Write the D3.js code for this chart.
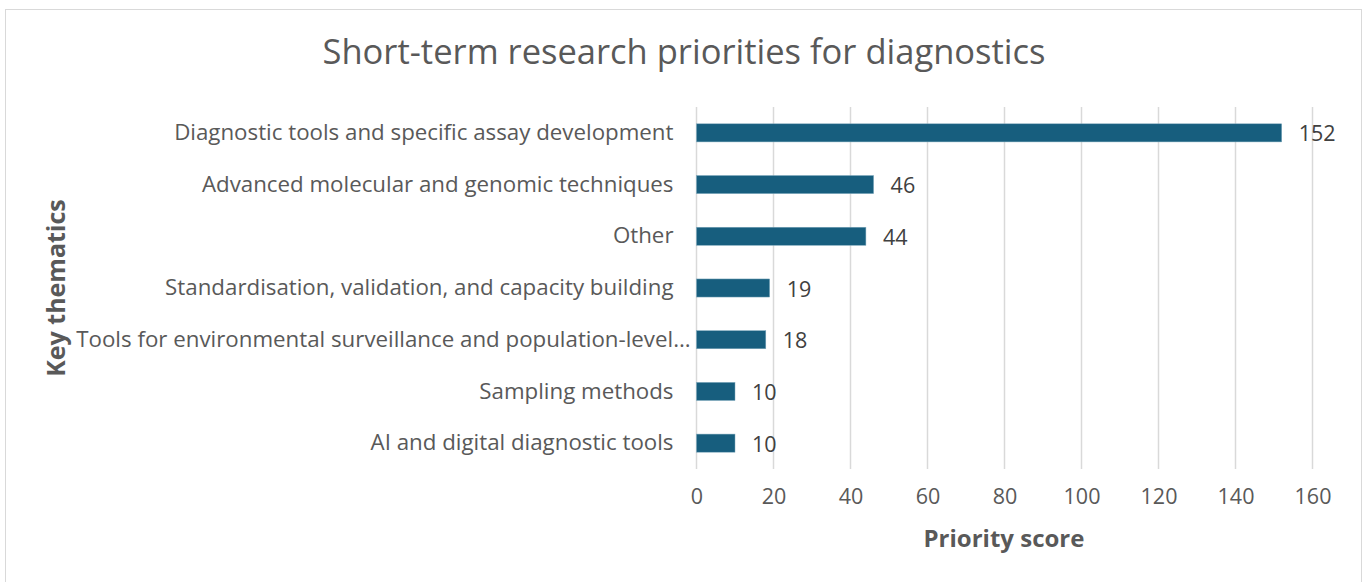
<!DOCTYPE html>
<html><head><meta charset="utf-8">
<script src="https://cdn.jsdelivr.net/npm/d3@7"></script>
<style>
html,body{margin:0;padding:0;background:#fff;}
svg{display:block;font-family:"Open Sans",sans-serif;}
</style></head>
<body>
<svg id="chart" width="1365" height="582"></svg>
<script>
const categories = [
  "Diagnostic tools and specific assay development",
  "Advanced molecular and genomic techniques",
  "Other",
  "Standardisation, validation, and capacity building",
  "Tools for environmental surveillance and population-level…",
  "Sampling methods",
  "AI and digital diagnostic tools"
];
const values = [152, 46, 44, 19, 18, 10, 10];
const xTicks = [0, 20, 40, 60, 80, 100, 120, 140, 160];
const title = "Short-term research priorities for diagnostics";
const xTitle = "Priority score";
const yTitle = "Key thematics";

(function(){
const svg = d3.select("#chart");
const pLeft = 696.5, pRight = 1312.5, pTop = 107, pBottom = 469;
const textColor = "#595959";
const ff = "'Open Sans',sans-serif";

svg.append("rect").attr("x",5.5).attr("y",9.5).attr("width",1356).attr("height",590)
  .attr("fill","#fff").attr("stroke","#d9d9d9").attr("stroke-width",1);

const x = d3.scaleLinear().domain([0,160]).range([pLeft,pRight]);
const y = d3.scaleBand().domain(categories).range([pTop,pBottom]).paddingInner(0.65).paddingOuter(0.325);

svg.append("g").selectAll("line").data(xTicks).join("line")
  .attr("x1",d=>x(d)).attr("x2",d=>x(d)).attr("y1",pTop).attr("y2",pBottom)
  .attr("stroke","#d9d9d9").attr("stroke-width",1.5);

const xAxis = d3.axisBottom(x).tickValues(xTicks).tickSize(0).tickPadding(0);
const gx = svg.append("g").attr("transform",`translate(0,${pBottom+20})`).call(xAxis);
gx.select(".domain").remove();
gx.selectAll("text").attr("fill",textColor).attr("font-size","21.5px").attr("font-family",ff).attr("dy","0.71em");

const yAxis = d3.axisLeft(y).tickSize(0).tickPadding(0);
const gy = svg.append("g").attr("transform",`translate(${pLeft-23},0)`).call(yAxis);
gy.select(".domain").remove();
gy.selectAll("text").attr("fill",textColor).attr("font-size","22.3px").attr("font-family",ff)
  .attr("dx",d=>d.endsWith("…")?"17":"0");

svg.append("g").selectAll("rect").data(values).join("rect")
  .attr("x",x(0)).attr("y",(d,i)=>y(categories[i]))
  .attr("width",d=>x(d)-x(0)).attr("height",y.bandwidth())
  .attr("fill","#175e7e").attr("stroke","#7fa9bd").attr("stroke-width",0.5);

svg.append("g").selectAll("text").data(values).join("text")
  .attr("x",d=>x(d)+17).attr("y",(d,i)=>y(categories[i])+y.bandwidth()/2+1)
  .attr("dy","0.35em").attr("fill","#404040").attr("font-size","21.5px").text(d=>d);

svg.append("text").attr("x",684).attr("y",52).attr("dy","0.35em").attr("text-anchor","middle")
  .attr("fill",textColor).attr("font-size","34.5px").text(title);

svg.append("text").attr("x",1004).attr("y",539).attr("dy","0.35em").attr("text-anchor","middle")
  .attr("fill",textColor).attr("font-size","24px").attr("font-weight","bold").text(xTitle);
svg.append("text").attr("transform","translate(56,288) rotate(-90)").attr("dy","0.35em").attr("text-anchor","middle")
  .attr("fill",textColor).attr("font-size","25px").attr("font-weight","bold").text(yTitle);
})();
</script>
</body></html>
